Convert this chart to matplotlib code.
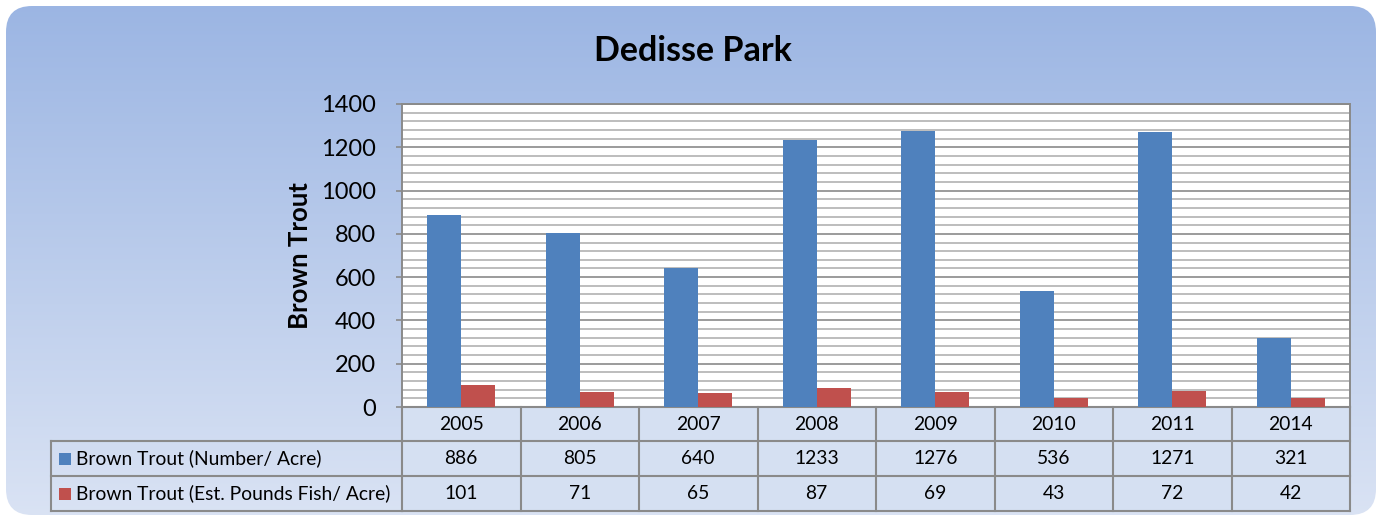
import numpy as np
import matplotlib
matplotlib.use("Agg")
import matplotlib.pyplot as plt
from matplotlib.patches import FancyBboxPatch, Rectangle
from matplotlib.lines import Line2D
import matplotlib.transforms as mtransforms
from matplotlib.ticker import MultipleLocator

plt.rcParams['font.family'] = ['Lato', 'DejaVu Sans']

# ---- data ----
title = "Dedisse Park"
ylabel = "Brown Trout"
years = ["2005", "2006", "2007", "2008", "2009", "2010", "2011", "2014"]
number_per_acre = [886, 805, 640, 1233, 1276, 536, 1271, 321]
pounds_per_acre = [101, 71, 65, 87, 69, 43, 72, 42]
series_names = ["Brown Trout (Number/ Acre)", "Brown Trout (Est. Pounds Fish/ Acre)"]
series_colors = ["#4F81BD", "#C0504D"]

W, H = 1377, 518
fig = plt.figure(figsize=(W / 100, H / 100), dpi=100)
fig.patch.set_facecolor("white")

# ---- background rounded gradient panel ----
bg = fig.add_axes([0, 0, 1, 1], zorder=-10)
bg.set_xlim(0, W)
bg.set_ylim(H, 0)
bg.axis("off")
grad = np.linspace(0, 1, 256).reshape(-1, 1)
top = np.array([155, 181, 227]) / 255
bot = np.array([218, 227, 244]) / 255
img = top[None, None, :] * (1 - grad[:, :, None]) + bot[None, None, :] * grad[:, :, None]
im = bg.imshow(img, extent=[0, W, H, 0], aspect="auto", interpolation="bilinear")
panel = FancyBboxPatch((6, 6), W - 7, H - 9, boxstyle="round,pad=0,rounding_size=26",
                       transform=bg.transData, facecolor="none", edgecolor="none")
bg.add_patch(panel)
im.set_clip_path(panel)

# ---- main axes ----
L, R, T, B = 402, 1350, 104, 407
ax = fig.add_axes([L / W, (H - B) / H, (R - L) / W, (B - T) / H])
ax.set_facecolor("white")
x = np.arange(len(years))
bw = 0.287
ax.bar(x - bw / 2, number_per_acre, width=bw, color=series_colors[0], zorder=3)
ax.bar(x + bw / 2, pounds_per_acre, width=bw, color=series_colors[1], zorder=3)
ax.set_xlim(-0.5, len(years) - 0.5)
ax.set_ylim(0, 1400)
ax.yaxis.set_major_locator(MultipleLocator(200))
ax.yaxis.set_minor_locator(MultipleLocator(40))
ax.grid(which="minor", axis="y", color="#BDBDBD", lw=1.4, zorder=1)
ax.grid(which="major", axis="y", color="#8A8A8A", lw=1.2, zorder=2)
ax.set_xticks([])
ax.tick_params(axis="y", which="major", length=4.5, width=1.2, color="#8A8A8A",
               labelsize=17, pad=14)
ax.tick_params(axis="y", which="minor", length=0)
for s in ax.spines.values():
    s.set_color("#8A8A8A")
    s.set_linewidth(1.4)
ax.set_ylabel(ylabel, fontsize=18.5, fontweight="bold")
ax.yaxis.set_label_coords((312 - L) / (R - L), 0.5)

fig.text(693 / W, 1 - 51 / H, title, ha="center", va="center", fontsize=24.5, fontweight="bold")

# ---- data table below ----
trans = mtransforms.blended_transform_factory(ax.transData, ax.transAxes)
ph = B - T
row_edges = [(B - y) / ph for y in (407, 441, 476, 511)]
leg_left = (51 - L) / (R - L)
cell_fill = "#D5E0F2"
line_c = "#8A8A8A"
lw = 1.5

# year cells fill
for i in range(len(years)):
    ax.add_patch(Rectangle((i - 0.5, row_edges[3]), 1, row_edges[0] - row_edges[3],
                           transform=trans, facecolor=cell_fill, edgecolor="none",
                           clip_on=False, zorder=0))
# horizontal lines in the year columns
for yy in row_edges:
    ax.add_line(Line2D([-0.5, len(years) - 0.5], [yy, yy], transform=trans,
                       color=line_c, lw=lw, clip_on=False))
# vertical lines
for i in range(len(years) + 1):
    ax.add_line(Line2D([i - 0.5, i - 0.5], [row_edges[0], row_edges[3]], transform=trans,
                       color=line_c, lw=lw, clip_on=False))
# legend column lines
for yy in row_edges[1:]:
    ax.add_line(Line2D([leg_left, 0], [yy, yy], transform=ax.transAxes,
                       color=line_c, lw=lw, clip_on=False))
ax.add_line(Line2D([leg_left, leg_left], [row_edges[1], row_edges[3]], transform=ax.transAxes,
                   color=line_c, lw=lw, clip_on=False))

fs = 13.9
for i, yr in enumerate(years):
    ymid = (row_edges[0] + row_edges[1]) / 2
    ax.text(i, ymid, yr, transform=trans, ha="center", va="center", fontsize=fs, clip_on=False)
for r, vals in enumerate([number_per_acre, pounds_per_acre]):
    ymid = (row_edges[r + 1] + row_edges[r + 2]) / 2
    for i, v in enumerate(vals):
        ax.text(i, ymid, str(v), transform=trans, ha="center", va="center", fontsize=fs,
                clip_on=False)
    sq = 12 / (R - L)
    sqh = 12 / ph
    ax.add_patch(Rectangle(((59 - L) / (R - L), ymid - sqh / 2), sq, sqh, transform=ax.transAxes,
                           facecolor=series_colors[r], edgecolor="none", clip_on=False))
    ax.text((76 - L) / (R - L), ymid, series_names[r], transform=ax.transAxes, ha="left",
            va="center", fontsize=fs, clip_on=False)

fig.savefig("out.png", dpi=100)
